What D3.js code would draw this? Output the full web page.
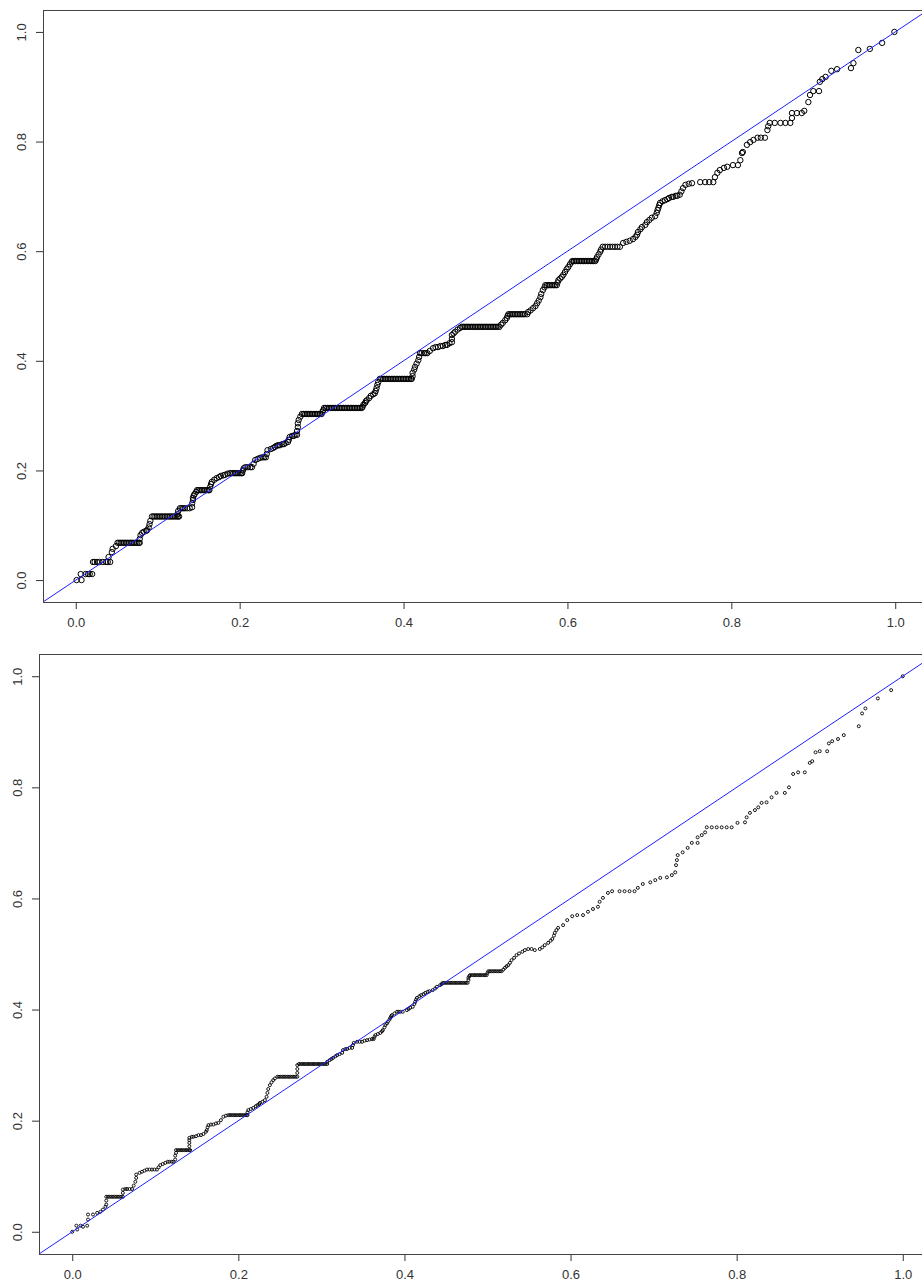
<!DOCTYPE html>
<html>
<head>
<meta charset="utf-8">
<script src="https://d3js.org/d3.v7.min.js"></script>
<style>
  body { margin: 0; background: #fff; }
  text { font-family: "Liberation Sans", Arial, sans-serif; font-size: 13px; fill: #333; }
</style>
</head>
<body>
<svg width="922" height="1288"></svg>
<script>
  // tick labels, shared by both panels
  var ticks = [0, 0.2, 0.4, 0.6, 0.8, 1.0];

  // upper panel: each row is [y, x, x, ...]
  var topRows = [
    [0.000, 0.001, 0.007],
    [0.011, 0.006, 0.012, 0.015, 0.017, 0.020],
    [0.033, 0.021, 0.023, 0.026, 0.029, 0.033, 0.037, 0.039, 0.042],
    [0.042, 0.040], [0.051, 0.044], [0.057, 0.045], [0.062, 0.049],
    [0.068, 0.051, 0.053, 0.055, 0.057, 0.059, 0.061, 0.063, 0.065, 0.067, 0.069, 0.071, 0.073, 0.075, 0.077, 0.078],
    [0.075, 0.078], [0.082, 0.079], [0.086, 0.081], [0.088, 0.083], [0.090, 0.086], [0.091, 0.087],
    [0.096, 0.089], [0.102, 0.090], [0.108, 0.091],
    [0.116, 0.093, 0.095, 0.097, 0.099, 0.101, 0.103, 0.105, 0.107, 0.109, 0.111, 0.113, 0.115, 0.117, 0.119, 0.121, 0.123, 0.125, 0.126],
    [0.120, 0.124], [0.126, 0.125], [0.131, 0.127, 0.129, 0.131, 0.133, 0.136, 0.139], [0.133, 0.142],
    [0.140, 0.142], [0.146, 0.143], [0.150, 0.143], [0.154, 0.144], [0.157, 0.145], [0.161, 0.147],
    [0.164, 0.148, 0.150, 0.152, 0.154, 0.156, 0.158, 0.160, 0.162, 0.163],
    [0.170, 0.164], [0.175, 0.165], [0.179, 0.166], [0.183, 0.169], [0.186, 0.172], [0.188, 0.175],
    [0.190, 0.177], [0.191, 0.180], [0.192, 0.182], [0.194, 0.185],
    [0.195, 0.188, 0.190, 0.192, 0.194, 0.196, 0.198, 0.200, 0.202, 0.203],
    [0.200, 0.204], [0.204, 0.205], [0.206, 0.207, 0.210, 0.213, 0.215], [0.212, 0.217], [0.219, 0.219],
    [0.221, 0.222], [0.223, 0.225], [0.224, 0.228, 0.230, 0.232], [0.230, 0.233], [0.237, 0.234],
    [0.239, 0.238], [0.241, 0.241], [0.243, 0.243], [0.245, 0.245], [0.246, 0.247, 0.249], [0.248, 0.252, 0.254],
    [0.250, 0.256], [0.252, 0.259], [0.256, 0.260], [0.261, 0.261], [0.263, 0.264, 0.266], [0.265, 0.268, 0.270],
    [0.272, 0.270], [0.279, 0.271], [0.286, 0.271], [0.292, 0.272], [0.298, 0.274],
    [0.303, 0.276, 0.278, 0.280, 0.282, 0.284, 0.286, 0.288, 0.290, 0.292, 0.294, 0.296, 0.298, 0.300],
    [0.307, 0.301], [0.310, 0.302],
    [0.314, 0.303, 0.305, 0.307, 0.309, 0.311, 0.313, 0.315, 0.317, 0.319, 0.321, 0.323, 0.325,
            0.327, 0.329, 0.331, 0.333, 0.335, 0.337, 0.339, 0.341, 0.343, 0.345, 0.347, 0.349],
    [0.316, 0.350], [0.320, 0.351], [0.323, 0.353], [0.326, 0.354], [0.328, 0.355], [0.332, 0.358],
    [0.336, 0.360], [0.339, 0.363], [0.341, 0.365], [0.345, 0.366], [0.350, 0.367], [0.356, 0.368], [0.361, 0.369],
    [0.367, 0.371, 0.373, 0.375, 0.377, 0.379, 0.381, 0.383, 0.385, 0.387, 0.389,
            0.391, 0.393, 0.395, 0.397, 0.399, 0.401, 0.403, 0.405, 0.407, 0.409, 0.410],
    [0.372, 0.411], [0.378, 0.411], [0.384, 0.413], [0.389, 0.414], [0.395, 0.416], [0.401, 0.418], [0.407, 0.419],
    [0.414, 0.420, 0.422, 0.425, 0.427, 0.429], [0.418, 0.432], [0.423, 0.436], [0.425, 0.439, 0.442],
    [0.427, 0.445, 0.448], [0.429, 0.451, 0.453], [0.432, 0.456], [0.434, 0.459], [0.440, 0.459], [0.447, 0.459],
    [0.450, 0.461], [0.453, 0.463], [0.457, 0.466], [0.460, 0.469],
    [0.462, 0.471, 0.473, 0.475, 0.477, 0.479, 0.481, 0.483, 0.485, 0.487, 0.489, 0.491, 0.493,
            0.495, 0.497, 0.499, 0.501, 0.503, 0.505, 0.507, 0.509, 0.511, 0.513, 0.515, 0.517],
    [0.466, 0.519], [0.469, 0.521], [0.474, 0.524], [0.478, 0.526], [0.482, 0.527],
    [0.485, 0.528, 0.530, 0.532, 0.534, 0.536, 0.538, 0.540, 0.542, 0.544, 0.546, 0.548, 0.551],
    [0.489, 0.552], [0.492, 0.555], [0.496, 0.558], [0.500, 0.561], [0.505, 0.563], [0.510, 0.565],
    [0.516, 0.567], [0.522, 0.568], [0.529, 0.570], [0.534, 0.572],
    [0.538, 0.573, 0.575, 0.577, 0.579, 0.581, 0.583, 0.585, 0.587],
    [0.543, 0.588], [0.547, 0.589], [0.550, 0.591], [0.553, 0.593], [0.557, 0.595], [0.562, 0.597],
    [0.567, 0.599], [0.571, 0.601], [0.576, 0.603], [0.580, 0.605],
    [0.582, 0.606, 0.608, 0.610, 0.612, 0.614, 0.616, 0.618, 0.620, 0.622, 0.624, 0.626, 0.628, 0.630, 0.632, 0.634],
    [0.585, 0.635], [0.589, 0.636], [0.594, 0.638], [0.599, 0.640], [0.603, 0.641],
    [0.608, 0.643, 0.646, 0.649, 0.652, 0.655, 0.658, 0.661, 0.664],
    [0.615, 0.668], [0.617, 0.672], [0.619, 0.676], [0.622, 0.680], [0.626, 0.683], [0.630, 0.685],
    [0.635, 0.686], [0.640, 0.689], [0.644, 0.691], [0.648, 0.695], [0.653, 0.697], [0.657, 0.700],
    [0.661, 0.703], [0.664, 0.707], [0.670, 0.709], [0.675, 0.710], [0.679, 0.711], [0.684, 0.712],
    [0.688, 0.713], [0.691, 0.716], [0.693, 0.719], [0.695, 0.722], [0.697, 0.724], [0.699, 0.727, 0.729],
    [0.701, 0.732, 0.734], [0.703, 0.737], [0.709, 0.739], [0.715, 0.741], [0.721, 0.744], [0.723, 0.748],
    [0.724, 0.752], [0.726, 0.762, 0.768, 0.773, 0.778], [0.735, 0.780], [0.743, 0.783], [0.748, 0.786],
    [0.752, 0.791], [0.754, 0.795], [0.757, 0.802, 0.808], [0.766, 0.811], [0.779, 0.813], [0.781, 0.814],
    [0.794, 0.819], [0.799, 0.823], [0.803, 0.827], [0.807, 0.832, 0.836, 0.841], [0.821, 0.844],
    [0.828, 0.845], [0.834, 0.847, 0.853, 0.860, 0.866, 0.872], [0.843, 0.874], [0.852, 0.874, 0.880, 0.886],
    [0.856, 0.889], [0.872, 0.894], [0.885, 0.896], [0.892, 0.900, 0.907], [0.909, 0.908], [0.914, 0.911],
    [0.918, 0.915], [0.929, 0.922], [0.932, 0.929], [0.934, 0.946], [0.943, 0.949], [0.967, 0.955],
    [0.969, 0.969], [0.980, 0.984], [1.000, 0.999]
  ];

  // lower panel: each row is [y, x, x, ...]
  var bottomRows = [
    [0.000, 0.000], [0.004, 0.006], [0.011, 0.005, 0.010, 0.018], [0.009, 0.013], [0.022, 0.019],
    [0.031, 0.019, 0.025], [0.034, 0.030], [0.036, 0.034], [0.040, 0.037], [0.045, 0.040], [0.049, 0.041], [0.056, 0.041],
    [0.063, 0.041, 0.043, 0.045, 0.047, 0.049, 0.051, 0.053, 0.055, 0.057, 0.059, 0.061],
    [0.070, 0.061], [0.076, 0.061], [0.077, 0.064, 0.066, 0.069, 0.072], [0.083, 0.074], [0.090, 0.076],
    [0.097, 0.077], [0.103, 0.077], [0.106, 0.081], [0.108, 0.084], [0.110, 0.087],
    [0.112, 0.090, 0.093, 0.096, 0.099, 0.102], [0.116, 0.104], [0.120, 0.106], [0.122, 0.109], [0.124, 0.112],
    [0.126, 0.115, 0.117, 0.120, 0.122], [0.130, 0.124], [0.137, 0.124], [0.142, 0.125],
    [0.147, 0.125, 0.127, 0.129, 0.131, 0.133, 0.135, 0.137, 0.139, 0.141, 0.142],
    [0.154, 0.141], [0.160, 0.141], [0.165, 0.141], [0.169, 0.141], [0.171, 0.144, 0.146], [0.172, 0.149],
    [0.174, 0.152, 0.155], [0.176, 0.158], [0.180, 0.161], [0.183, 0.162], [0.188, 0.163], [0.192, 0.164],
    [0.193, 0.167, 0.170], [0.195, 0.173], [0.196, 0.176], [0.201, 0.179], [0.207, 0.182], [0.209, 0.185],
    [0.210, 0.188, 0.190, 0.192, 0.194, 0.196, 0.198, 0.200, 0.202, 0.204, 0.206, 0.208, 0.210, 0.211],
    [0.215, 0.211], [0.219, 0.212], [0.221, 0.215], [0.223, 0.218], [0.226, 0.221], [0.228, 0.223],
    [0.230, 0.225], [0.232, 0.226], [0.234, 0.229], [0.237, 0.232], [0.243, 0.234], [0.250, 0.235],
    [0.257, 0.236], [0.264, 0.238], [0.269, 0.240], [0.273, 0.242], [0.276, 0.244],
    [0.279, 0.247, 0.249, 0.251, 0.253, 0.255, 0.257, 0.259, 0.261, 0.263, 0.265, 0.267, 0.269, 0.271],
    [0.286, 0.271], [0.293, 0.271], [0.300, 0.271],
    [0.302, 0.273, 0.275, 0.277, 0.279, 0.281, 0.283, 0.285, 0.287, 0.289, 0.291, 0.293,
            0.295, 0.297, 0.299, 0.301, 0.303, 0.305, 0.307],
    [0.306, 0.307], [0.309, 0.310], [0.311, 0.312], [0.313, 0.314], [0.316, 0.317], [0.318, 0.319],
    [0.320, 0.322], [0.322, 0.325], [0.327, 0.326], [0.329, 0.329, 0.331], [0.331, 0.334, 0.337],
    [0.336, 0.338], [0.340, 0.339], [0.342, 0.343, 0.346, 0.349], [0.344, 0.352], [0.345, 0.355],
    [0.346, 0.358], [0.347, 0.361, 0.363], [0.351, 0.364], [0.354, 0.365], [0.356, 0.368], [0.358, 0.371],
    [0.361, 0.373], [0.363, 0.374], [0.368, 0.376], [0.372, 0.377], [0.375, 0.379], [0.378, 0.380],
    [0.382, 0.382], [0.385, 0.383], [0.388, 0.384], [0.390, 0.385], [0.393, 0.388],
    [0.396, 0.391, 0.393, 0.395, 0.398], [0.399, 0.403], [0.401, 0.405], [0.403, 0.407], [0.405, 0.410],
    [0.410, 0.412], [0.414, 0.413], [0.418, 0.414], [0.421, 0.415], [0.424, 0.418], [0.426, 0.420],
    [0.428, 0.423], [0.430, 0.425], [0.432, 0.428], [0.433, 0.430], [0.435, 0.434], [0.438, 0.437],
    [0.441, 0.439], [0.444, 0.443], [0.446, 0.445],
    [0.448, 0.446, 0.448, 0.450, 0.452, 0.454, 0.456, 0.458, 0.460, 0.462, 0.464, 0.466, 0.468,
            0.470, 0.472, 0.474, 0.476],
    [0.453, 0.477], [0.457, 0.477], [0.460, 0.478],
    [0.462, 0.479, 0.481, 0.483, 0.485, 0.487, 0.489, 0.491, 0.493, 0.495, 0.497, 0.499],
    [0.466, 0.500],
    [0.469, 0.501, 0.503, 0.505, 0.507, 0.509, 0.511, 0.513, 0.515, 0.517],
    [0.472, 0.519], [0.475, 0.521], [0.478, 0.523], [0.480, 0.525], [0.484, 0.527], [0.489, 0.529],
    [0.493, 0.532], [0.498, 0.535], [0.501, 0.538], [0.504, 0.542], [0.507, 0.545, 0.557],
    [0.509, 0.549, 0.553, 0.563], [0.512, 0.566], [0.516, 0.569], [0.520, 0.573], [0.524, 0.576],
    [0.527, 0.578], [0.533, 0.580], [0.538, 0.581], [0.543, 0.583], [0.547, 0.585],
    [0.552, 0.591], [0.561, 0.596], [0.568, 0.602], [0.570, 0.608, 0.615], [0.576, 0.621], [0.581, 0.627],
    [0.585, 0.633], [0.594, 0.635], [0.601, 0.639], [0.610, 0.645], [0.613, 0.650, 0.659, 0.665, 0.671, 0.677],
    [0.619, 0.681], [0.626, 0.687], [0.629, 0.696], [0.633, 0.702], [0.637, 0.708], [0.638, 0.716],
    [0.642, 0.722], [0.647, 0.726], [0.660, 0.727], [0.669, 0.728], [0.678, 0.729], [0.683, 0.735],
    [0.691, 0.741], [0.700, 0.746, 0.753], [0.710, 0.753], [0.714, 0.758], [0.719, 0.762],
    [0.728, 0.764, 0.770, 0.776, 0.782, 0.788, 0.794], [0.736, 0.801], [0.737, 0.810], [0.746, 0.812],
    [0.754, 0.816], [0.759, 0.822], [0.764, 0.826], [0.772, 0.830], [0.773, 0.836], [0.782, 0.842],
    [0.790, 0.848, 0.858], [0.800, 0.863], [0.824, 0.868], [0.827, 0.874, 0.882], [0.844, 0.888],
    [0.847, 0.891], [0.863, 0.895], [0.865, 0.900, 0.909], [0.879, 0.911], [0.883, 0.915], [0.887, 0.922],
    [0.894, 0.929], [0.910, 0.947], [0.933, 0.951], [0.942, 0.955], [0.960, 0.970], [0.975, 0.986],
    [1.000, 1.000]
  ];

  function toPoints(rows) {
    var pts = [];
    rows.forEach(function(r) {
      for (var i = 1; i < r.length; i++) pts.push([r[i], r[0]]);
    });
    return pts;
  }

  var svg = d3.select("svg");
  var fmt = d3.format(".1f");

  function drawPanel(points, box, r, sw) {
    // box = [left, right, top, bottom] of the plot region (R pads the range by 4%)
    var x = d3.scaleLinear().domain([-0.04, 1.04]).range([box[0], box[1]]);
    var y = d3.scaleLinear().domain([-0.04, 1.04]).range([box[3], box[2]]);
    var g = svg.append("g");

    var clipId = "clip" + Math.round(box[2]);
    g.append("clipPath").attr("id", clipId)
      .append("rect")
      .attr("x", box[0]).attr("y", box[2])
      .attr("width", box[1] - box[0]).attr("height", box[3] - box[2]);

    g.append("g").attr("clip-path", "url(#" + clipId + ")")
      .selectAll("circle")
      .data(points)
      .enter()
      .append("circle")
      .attr("cx", function(d) { return x(d[0]); })
      .attr("cy", function(d) { return y(d[1]); })
      .attr("r", r)
      .style("fill", "none")
      .style("stroke", "#000")
      .style("stroke-width", sw);

    // abline(0, 1)
    g.append("line")
      .attr("clip-path", "url(#" + clipId + ")")
      .attr("x1", x(-0.04)).attr("y1", y(-0.04))
      .attr("x2", x(1.04)).attr("y2", y(1.04))
      .style("stroke", "#1f1fff")
      .style("stroke-width", 1);

    var xAxis = g.append("g").attr("transform", "translate(0," + box[3] + ")")
      .call(d3.axisBottom(x).tickValues(ticks).tickFormat(fmt).tickSize(7).tickPadding(9));
    var yAxis = g.append("g").attr("transform", "translate(" + box[0] + ",0)")
      .call(d3.axisLeft(y).tickValues(ticks).tickFormat(fmt).tickSize(7).tickPadding(9));

    [xAxis, yAxis].forEach(function(a) {
      a.select(".domain").remove();
      a.selectAll("line").style("stroke", "#333");
      a.selectAll("text").style("font-size", "13px").style("fill", "#333")
        .style("font-family", "'Liberation Sans', Arial, sans-serif");
    });
    yAxis.selectAll("text")
      .attr("x", null).attr("dy", null)
      .attr("text-anchor", "middle")
      .attr("transform", "translate(-17,0) rotate(-90)");

    // box()
    g.append("rect")
      .attr("x", box[0] + 0.5).attr("y", box[2] + 0.5)
      .attr("width", box[1] - box[0]).attr("height", box[3] - box[2])
      .style("fill", "none")
      .style("stroke", "#444")
      .style("stroke-width", 1);
  }

  drawPanel(toPoints(topRows), [43, 928, 10, 602], 2.7, 1.0);
  drawPanel(toPoints(bottomRows), [39, 936, 654, 1254], 1.5, 0.9);
</script>
</body>
</html>
